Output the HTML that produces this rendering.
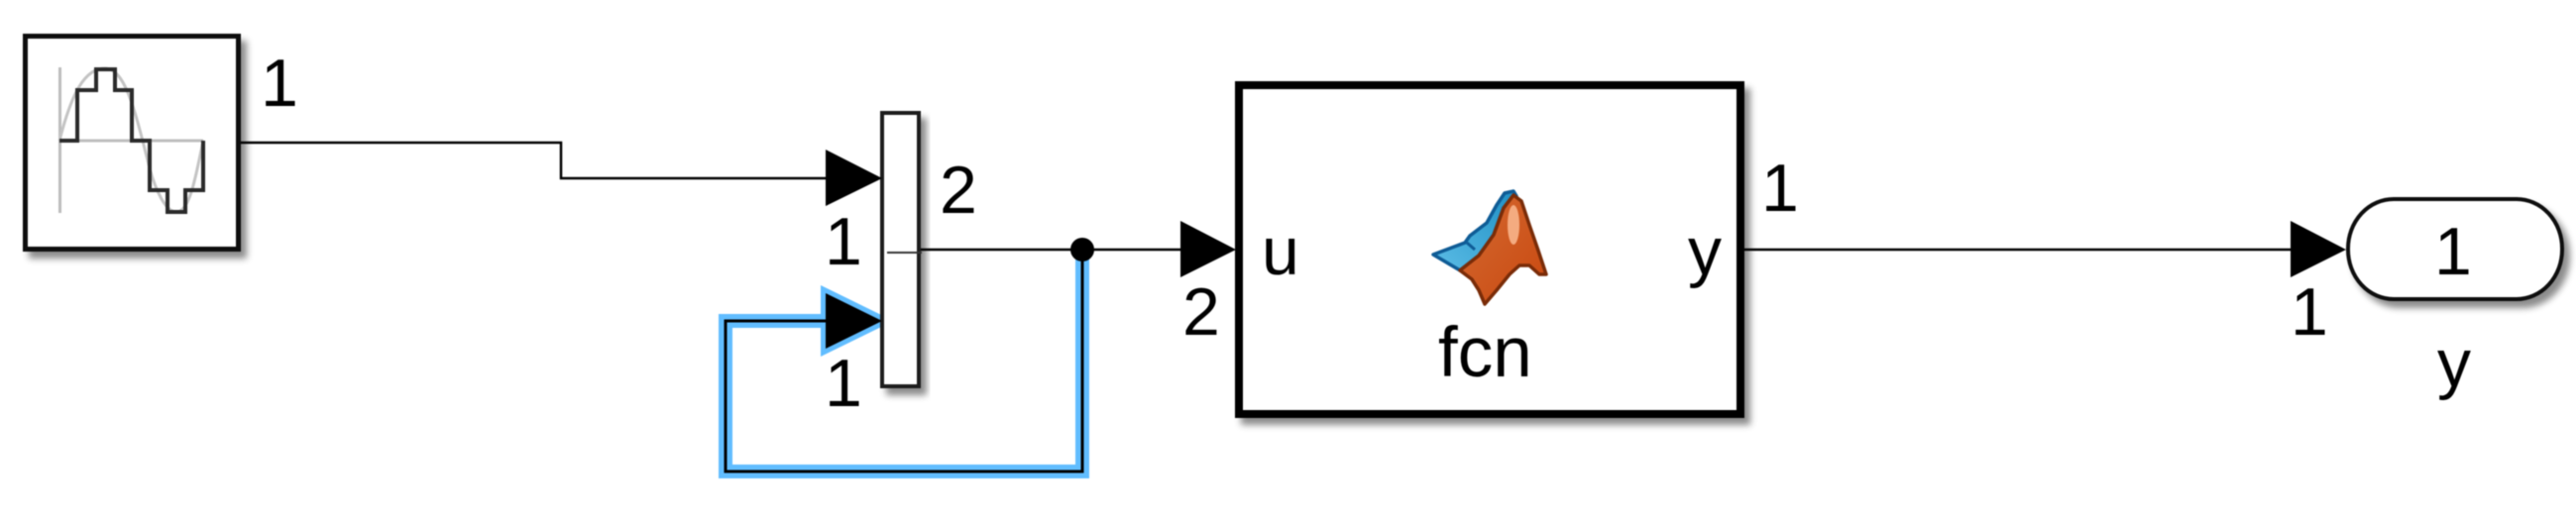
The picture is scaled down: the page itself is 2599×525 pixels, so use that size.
<!DOCTYPE html>
<html>
<head>
<meta charset="utf-8">
<style>
html,body{margin:0;padding:0;background:#fff;width:2599px;height:525px;overflow:hidden}
svg{display:block;filter:blur(.6px)}
text{font-family:"Liberation Sans",Arial,sans-serif;font-size:68px;fill:#000}
</style>
</head>
<body>
<svg width="2599" height="525" viewBox="0 0 2599 525" xmlns="http://www.w3.org/2000/svg">
<defs>
<filter id="sh" x="-20%" y="-20%" width="150%" height="150%">
<feDropShadow dx="6" dy="7" stdDeviation="3.5" flood-color="#000" flood-opacity=".45"/>
</filter>
<linearGradient id="or" x1="0" y1="0" x2="1" y2="1">
<stop offset="0" stop-color="#d46a32"/><stop offset="1" stop-color="#c9480f"/>
</linearGradient>
<linearGradient id="bl" x1="0" y1="1" x2="1" y2="0">
<stop offset="0" stop-color="#5cbde6"/><stop offset="1" stop-color="#1f8fc4"/>
</linearGradient>
</defs>

<!-- Source block -->
<rect x="25.5" y="36.5" width="215" height="215" fill="#fff" stroke="#111" stroke-width="5" filter="url(#sh)"/>
<path d="M60.5 68V215M60 142H205" fill="none" stroke="#bdbdbd" stroke-width="3"/>
<path d="M60 142C72 95 85 69 106 69C127 69 137 115 151 170C157 192 167 214 178 214C192 214 198 175 205 142" fill="none" stroke="#c4c4c4" stroke-width="3"/>
<path d="M60 142H78V91H97V70H116V91H133V142H151V192H169V214H187V192H205V142" fill="none" stroke="#2a2a2a" stroke-width="4"/>

<!-- Wires -->
<path d="M243 144H566V180H834" fill="none" stroke="#000" stroke-width="2.5"/>
<path d="M1092 262V476H732V324H834" fill="none" stroke="#61bdff" stroke-width="14"/>
<polygon points="833,296 890,324 833,352" fill="#61bdff" stroke="#61bdff" stroke-width="10"/>
<path d="M1092 252V476H732V324H834" fill="none" stroke="#000" stroke-width="3"/>
<path d="M929 252H1195" fill="none" stroke="#000" stroke-width="2.5"/>
<path d="M1760 252H2312" fill="none" stroke="#000" stroke-width="2.5"/>
<circle cx="1092" cy="252" r="12" fill="#000"/>

<!-- Mux bar -->
<rect x="890" y="114" width="37" height="276" fill="#fff" stroke="#1a1a1a" stroke-width="4" filter="url(#sh)"/>
<path d="M895 255H930" stroke="#333" stroke-width="2" fill="none"/>

<!-- Arrowheads -->
<polygon points="833,151 890,180 833,208" fill="#000"/>
<polygon points="833,296 890,324 833,352" fill="#000"/>
<polygon points="1191,223 1247,252 1191,280" fill="#000"/>
<polygon points="2311,223 2367,252 2311,280" fill="#000"/>

<!-- MATLAB Function block -->
<rect x="1250" y="86" width="506" height="332" fill="#fff" stroke="#000" stroke-width="8" filter="url(#sh)"/>
<path d="M1446 257L1478 245L1483 238L1500 225L1510 207L1518 195L1527 193L1530 198L1517 210L1507 237L1492 258L1473 273Z" fill="url(#bl)" stroke="#0f5c96" stroke-width="3.5" stroke-linejoin="round"/>
<path d="M1480 245L1488 252" stroke="#0f5c96" stroke-width="3" fill="none"/>
<path d="M1473 273L1492 258L1507 237L1517 210L1527 197L1535 203L1543 227L1552 253L1560 277L1553 277L1543 268L1533 268L1523 277L1510 293L1498 307L1492 293L1485 282Z" fill="url(#or)" stroke="#7a2c08" stroke-width="3.5" stroke-linejoin="round"/>
<ellipse cx="1527" cy="227" rx="6" ry="20" fill="#f4ab80"/>

<!-- Outport -->
<rect x="2369" y="201" width="216" height="101" rx="46" ry="50" fill="#fff" stroke="#111" stroke-width="4" filter="url(#sh)"/>

<!-- Labels -->
<text x="263" y="107">1</text>
<text x="948" y="215">2</text>
<text x="832" y="267">1</text>
<text x="832" y="410">1</text>
<text x="1193" y="338">2</text>
<text x="1273" y="277">u</text>
<text x="1703" y="277">y</text>
<text x="1451" y="380" style="font-size:71px">fcn</text>
<text x="1777" y="213">1</text>
<text x="2311" y="338">1</text>
<text x="2456" y="277">1</text>
<text x="2459" y="390">y</text>
</svg>
</body>
</html>
